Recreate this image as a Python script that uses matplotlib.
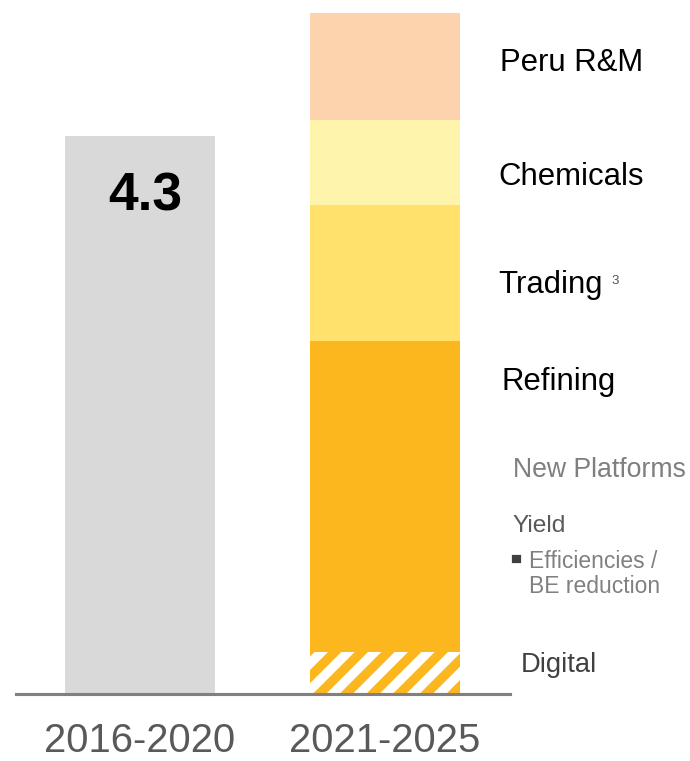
import matplotlib
matplotlib.use("Agg")
import matplotlib.pyplot as plt
from matplotlib.patches import Rectangle

# ---- data -------------------------------------------------------------
periods = ["2016-2020", "2021-2025"]
past_total = 4.3

segments = ["Digital", "Refining", "Trading", "Chemicals", "Peru R&M"]
segment_values = [0.32, 2.40, 1.05, 0.65, 0.83]
segment_colors = ["#FDB71E", "#FDB71E", "#FFE16B", "#FFF4AB", "#FDD3AE"]
segment_hatches = ["//", None, None, None, None]

# ---- figure geometry --------------------------------------------------
W, H, DPI = 690, 761, 160
BASE_PX = 694          # pixel row of the zero line
PX_PER_UNIT = 129.8    # vertical scale
C0, C1 = 140, 385      # bar centres in pixels
STEP = C1 - C0
BAR_W = 150 / STEP

plt.rcParams["font.family"] = ["Liberation Sans", "DejaVu Sans"]
plt.rcParams["hatch.linewidth"] = 4.2

fig = plt.figure(figsize=(W / DPI, H / DPI), dpi=DPI)
ax = fig.add_axes([0, (H - BASE_PX) / H, 1, BASE_PX / H])
ax.set_xlim(-C0 / STEP, (W - C0) / STEP)
ax.set_ylim(0, BASE_PX / PX_PER_UNIT)

# past period bar
ax.bar(0, past_total, width=BAR_W, color="#D9D9D9", linewidth=0)
ax.annotate(f"{past_total}", xy=(0, past_total), xytext=(2.3, -27.5),
            textcoords="offset points", ha="center", va="center",
            fontsize=24, fontweight="bold", color="#000000")

# stacked plan bar
bottom = 0.0
for name, val, col, hat in zip(segments, segment_values, segment_colors, segment_hatches):
    if hat:
        ax.bar(1, val, bottom=bottom, width=BAR_W, facecolor="white",
               edgecolor=col, linewidth=0, hatch=hat)
    else:
        ax.bar(1, val, bottom=bottom, width=BAR_W, color=col, linewidth=0)
    bottom += val

# axis styling
for s in ax.spines.values():
    s.set_visible(False)
ax.set_yticks([])
ax.set_xticks([0, 1])
ax.set_xticklabels(periods, fontsize=18, color="#595959")
ax.tick_params(axis="x", length=0, pad=12.5)
ax.axhline(0, xmin=16 / W, xmax=510 / W, color="#808080", linewidth=1.4,
           clip_on=False, zorder=5)


def ftext(x, y, s, **kw):
    fig.text(x / W, 1 - y / H, s, va="baseline", ha="left", **kw)


# segment labels
ftext(500, 71, "Peru R&M", fontsize=14, color="#000000")
ftext(498, 185, "Chemicals", fontsize=14, color="#000000")
ftext(498, 293, "Trading", fontsize=14, color="#000000")
ftext(611, 284, "3", fontsize=6, color="#555555")
ftext(502, 390, "Refining", fontsize=14, color="#000000")
ftext(513, 477, "New Platforms", fontsize=12, color="#7F7F7F")
ftext(512, 532, "Yield", fontsize=11, color="#595959")
fig.patches.append(Rectangle((513 / W, 1 - 562 / H), 7 / W, 6 / H,
                             transform=fig.transFigure, color="#404040"))
ftext(529, 568, "Efficiencies /", fontsize=10.3, color="#808080")
ftext(529, 593, "BE reduction", fontsize=10.3, color="#808080")
ftext(521, 672, "Digital", fontsize=12.3, color="#404040")

fig.savefig("out.png", dpi=DPI)
